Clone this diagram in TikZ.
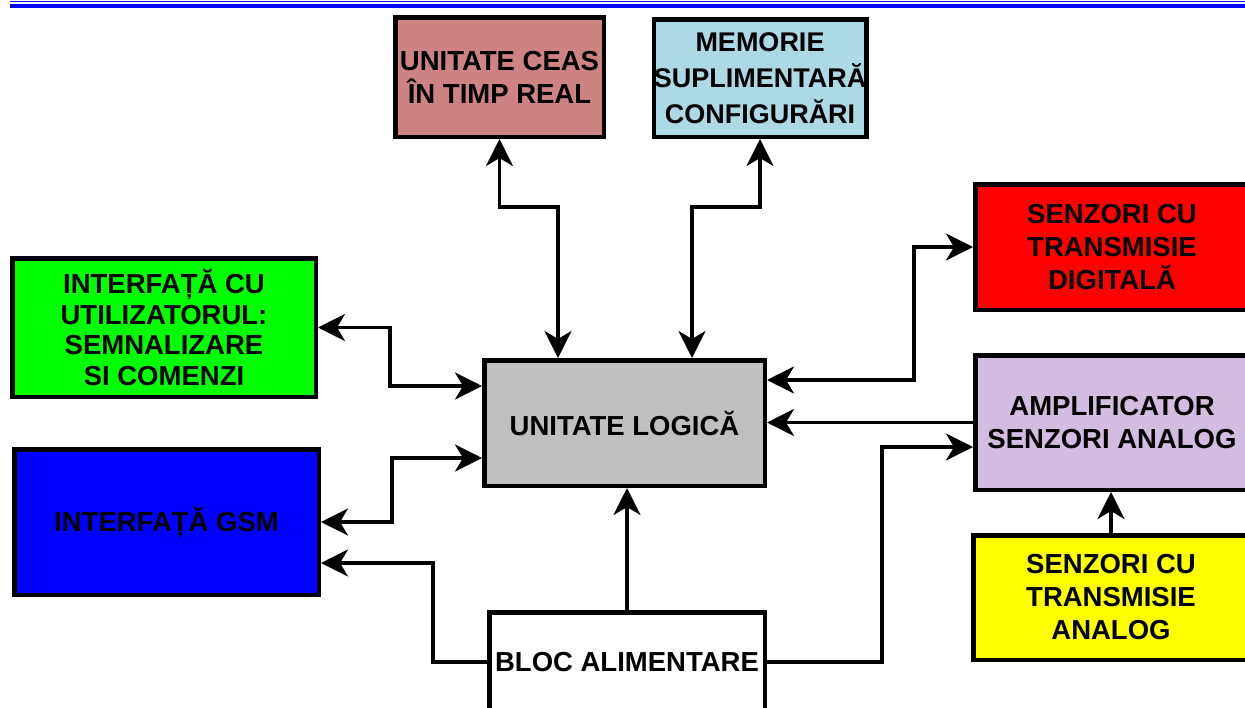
\documentclass[tikz,border=0pt]{standalone}
\usepackage{fontspec}
\setmainfont{Liberation Sans}
\usetikzlibrary{arrows.meta}

\definecolor{clockfill}{RGB}{206,131,131}
\definecolor{memfill}{RGB}{173,216,230}
\definecolor{greenfill}{RGB}{0,255,0}
\definecolor{bluefill}{RGB}{0,0,255}
\definecolor{grayfill}{RGB}{192,192,192}
\definecolor{redfill}{RGB}{255,0,0}
\definecolor{ampfill}{RGB}{210,188,226}
\definecolor{yellowfill}{RGB}{255,255,0}

\tikzset{
  block/.style={draw=black, line width=4.5pt, inner sep=0pt, align=center,
    font=\bfseries\fontsize{27.5}{33}\selectfont},
  link/.style={line width=3.5pt, line join=miter,
    -{Stealth[length=27pt, width=27pt, inset=8pt]}},
  duplex/.style={link, {Stealth[length=27pt, width=27pt, inset=8pt]}-{Stealth[length=27pt, width=27pt, inset=8pt]}},
  rule/.style={draw=blue}
}

\begin{document}
\begin{tikzpicture}[x=1pt, y=-1pt]
\useasboundingbox (0,0) rectangle (1245,707);
\clip (0,0) rectangle (1245,707);

% header rules
\draw[rule, line width=1.3pt] (10,1.2) -- (1250,1.2);
\draw[rule, line width=4pt] (10,5.5) -- (1250,5.5);

% blocks
\node[block, fill=clockfill, minimum width=208.5pt, minimum height=119.5pt] (clk) at (499.5,77)
  {UNITATE CEAS\\ÎN TIMP REAL};
\node[block, fill=memfill, minimum width=211.5pt, minimum height=117.5pt,
  font=\bfseries\fontsize{27}{36}\selectfont] (mem) at (760,78)
  {MEMORIE\\SUPLIMENTARĂ\\CONFIGURĂRI};
\node[block, fill=grayfill, minimum width=280.5pt, minimum height=125.5pt] (ul) at (624.5,423)
  {UNITATE LOGICĂ};
\node[block, fill=greenfill, minimum width=303.5pt, minimum height=138.5pt,
  font=\bfseries\fontsize{27.5}{30.5}\selectfont] (grn) at (164,327.5)
  {INTERFAȚĂ CU\\UTILIZATORUL:\\SEMNALIZARE\\SI COMENZI};
\node[block, fill=bluefill, minimum width=304.5pt, minimum height=145.5pt] (gsm) at (166.5,522)
  {INTERFAȚĂ GSM};
\node[block, fill=redfill, minimum width=273.5pt, minimum height=125.5pt] (red) at (1112,247)
  {SENZORI CU\\TRANSMISIE\\DIGITALĂ};
\node[block, fill=ampfill, minimum width=273.5pt, minimum height=134.5pt] (amp) at (1112,422.5)
  {AMPLIFICATOR\\SENZORI ANALOG};
\node[block, fill=yellowfill, minimum width=275.5pt, minimum height=124.5pt] (yel) at (1111,597.5)
  {SENZORI CU\\TRANSMISIE\\ANALOG};
\node[block, fill=white, minimum width=275.5pt, minimum height=99.5pt] (bloc) at (627,662)
  {BLOC ALIMENTARE};

% bend points of the connectors
\coordinate (k1) at (558,207);
\coordinate (k2) at (692,207);
\coordinate (k3) at (390,386);
\coordinate (k4) at (392,458);
\coordinate (k5) at (433,563);
\coordinate (k6) at (882,447);
\coordinate (k7) at (914,380);

% connectors
\draw[duplex] (ul.north -| k1) -- (k1) -| (clk.south);
\draw[duplex] (ul.north -| k2) -- (k2) -| (mem.south);
\draw[duplex] (grn.east) -| (k3) -- (ul.west |- k3);
\draw[duplex] (ul.west |- k4) -- (k4) |- (gsm.east);
\draw[link] (bloc.west) -| (k5) -- (gsm.east |- k5);
\draw[link] (bloc.north) -- (bloc.north |- ul.south);
\draw[link] (bloc.east) -| (k6) -- (amp.west |- k6);
\draw[link] (amp.west) -- (ul.east |- amp.west);
\draw[duplex] (ul.east |- k7) -- (k7) |- (red.west);
\draw[link] (yel.north) -- (yel.north |- amp.south);
\end{tikzpicture}
\end{document}
